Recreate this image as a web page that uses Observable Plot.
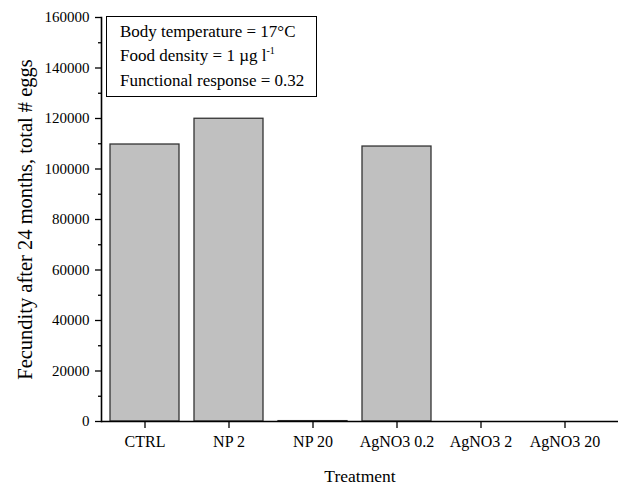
<!DOCTYPE html>
<html>
<head>
<meta charset="utf-8">
<script src="https://cdn.jsdelivr.net/npm/d3@7"></script>
<script src="https://cdn.jsdelivr.net/npm/@observablehq/plot@0.6"></script>
<style>
  body { margin: 0; background: #fff; }
  #wrap { position: relative; width: 624px; height: 484px; font-family: "Liberation Serif", "Times New Roman", serif; }
  #note { position: absolute; left: 106px; top: 16px; width: 211px; height: 81px; border: 1px solid #000; background: #fff;
          font-size: 17px; line-height: 24.5px; padding: 2.5px 0 0 13px; box-sizing: border-box; color: #000; white-space: nowrap; }
  #note sup { font-size: 10px; vertical-align: 7px; line-height: 0; }
</style>
</head>
<body>
<div id="wrap">
  <div id="chart"></div>
  <div id="note">
    <div>Body temperature = 17°C</div>
    <div>Food density = 1 µg l<sup>-1</sup></div>
    <div>Functional response = 0.32</div>
  </div>
</div>
<script>
const treatments = ["CTRL", "NP 2", "NP 20", "AgNO3 0.2", "AgNO3 2", "AgNO3 20"];
const fecundity = [109700, 119900, 150, 108900, 0, 0];
const majorTicks = [0, 20000, 40000, 60000, 80000, 100000, 120000, 140000, 160000];
const minorTicks = [10000, 30000, 50000, 70000, 90000, 110000, 130000, 150000];
const yLabel = "Fecundity after 24 months, total # eggs";
const xLabel = "Treatment";

const data = treatments.map((t, i) => ({t, v: fecundity[i]}));

const chart = Plot.plot({
  width: 624,
  height: 484,
  marginLeft: 101,
  marginRight: 6,
  marginTop: 17,
  marginBottom: 63,
  style: {fontFamily: "'Liberation Serif', 'Times New Roman', serif", fontSize: "15.5px", color: "#000", background: "#fff"},
  x: {domain: treatments, range: [101, 608], paddingInner: 0.18, paddingOuter: 0.09},
  y: {domain: [0, 160000]},
  marks: [
    Plot.barY(data, {x: "t", y: "v", fill: "#c0c0c0", stroke: "#333", strokeWidth: 1.3}),
    Plot.axisY({ticks: minorTicks, tickSize: 3, tickFormat: () => "", label: null, strokeWidth: 1.3}),
    Plot.axisY({ticks: majorTicks, tickSize: 6, tickPadding: 6, tickFormat: d => String(d), label: null, strokeWidth: 1.3, fontSize: 15}),
    Plot.axisY({ticks: [], label: yLabel, labelAnchor: "center", labelArrow: "none", labelOffset: 84, fontSize: 20.5}),
    Plot.axisX({tickSize: 7, tickPadding: 7, label: null, strokeWidth: 1.3, fontSize: 16}),
    Plot.axisX({ticks: [], label: xLabel, labelAnchor: "center", labelArrow: "none", labelOffset: 60, fontSize: 17.5}),
    Plot.ruleY([0], {stroke: "#000", strokeWidth: 1.6}),
    Plot.frame({anchor: "left", stroke: "#000", strokeWidth: 1.6})
  ]
});
document.getElementById("chart").appendChild(chart);
</script>
</body>
</html>
